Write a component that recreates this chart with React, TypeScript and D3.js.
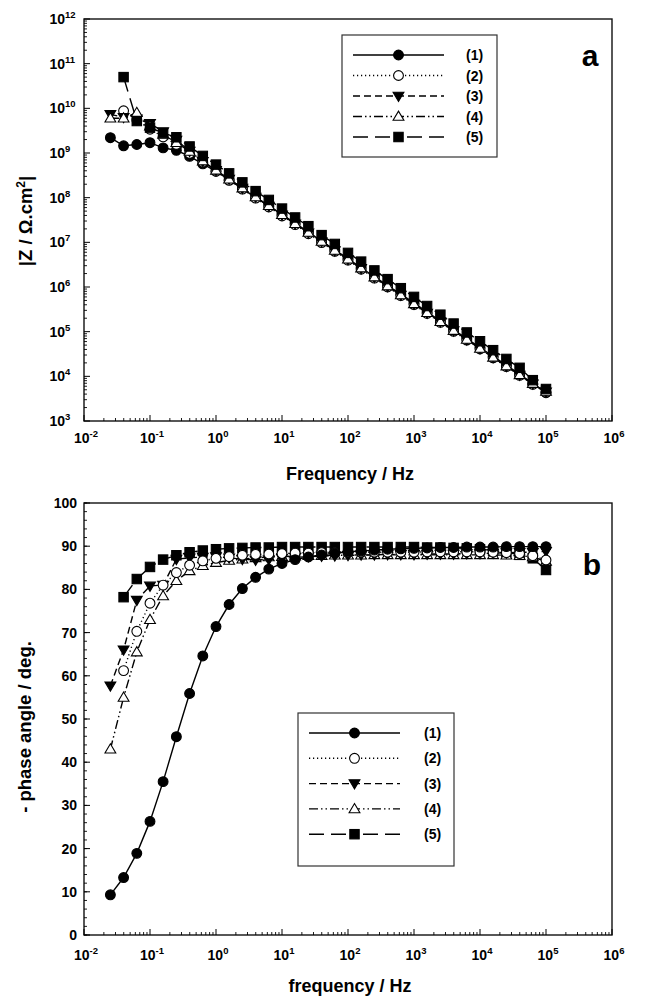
import React from "react";
import * as d3 from "d3";

const FREQ = [0.0251, 0.0398, 0.0631, 0.1, 0.158, 0.251, 0.398, 0.631, 1, 1.58, 2.51, 3.98, 6.31, 10, 15.8, 25.1, 39.8, 63.1, 100, 158, 251, 398, 631, 1000, 1580, 2510, 3980, 6310, 10000, 15800, 25100, 39800, 63100, 100000];

const Z1 = [2.2e9, 1.45e9, 1.55e9, 1.7e9, 1.3e9, 1.15e9, 8.4e8, 5.7e8, 3.9e8, 2.5e8, 1.6e8, 1.0e8, 6.6e7, 4.2e7, 2.7e7, 1.7e7, 1.07e7, 6.8e6, 4.3e6, 2.7e6, 1.72e6, 1.08e6, 6.9e5, 4.4e5, 2.75e5, 1.75e5, 1.1e5, 7.0e4, 4.4e4, 2.8e4, 1.78e4, 1.12e4, 6.8e3, 4.3e3];
const Z2 = [null, 8.8e9, 5.5e9, 3.4e9, 2.3e9, 1.55e9, 9.8e8, 6.2e8, 3.9e8, 2.45e8, 1.55e8, 9.8e7, 6.2e7, 3.9e7, 2.5e7, 1.56e7, 9.9e6, 6.3e6, 4.0e6, 2.5e6, 1.58e6, 1.0e6, 6.4e5, 4.05e5, 2.55e5, 1.62e5, 1.02e5, 6.5e4, 4.1e4, 2.6e4, 1.65e4, 1.05e4, 6.6e3, 4.4e3];
const Z3 = [7.3e9, 6.3e9, 5.8e9, 4.6e9, 3.0e9, 1.95e9, 1.1e9, 6.5e8, 4.1e8, 2.6e8, 1.63e8, 1.03e8, 6.5e7, 4.1e7, 2.6e7, 1.64e7, 1.04e7, 6.5e6, 4.1e6, 2.6e6, 1.65e6, 1.04e6, 6.6e5, 4.15e5, 2.62e5, 1.66e5, 1.05e5, 6.6e4, 4.2e4, 2.65e4, 1.68e4, 1.07e4, 6.8e3, 4.5e3];
const Z4 = [6.0e9, 6.0e9, 8.0e9, 4.0e9, 2.6e9, 1.7e9, 1.08e9, 6.6e8, 4.1e8, 2.6e8, 1.64e8, 1.04e8, 6.6e7, 4.15e7, 2.62e7, 1.66e7, 1.05e7, 6.6e6, 4.2e6, 2.65e6, 1.67e6, 1.05e6, 6.65e5, 4.2e5, 2.65e5, 1.67e5, 1.06e5, 6.7e4, 4.2e4, 2.66e4, 1.7e4, 1.08e4, 6.9e3, 4.6e3];
const Z5 = [null, 5.0e10, 5.2e9, 3.7e9, 2.8e9, 2.25e9, 1.4e9, 8.6e8, 5.5e8, 3.5e8, 2.2e8, 1.4e8, 8.9e7, 5.7e7, 3.6e7, 2.3e7, 1.45e7, 9.2e6, 5.8e6, 3.7e6, 2.35e6, 1.5e6, 9.4e5, 6.0e5, 3.75e5, 2.4e5, 1.52e5, 9.6e4, 6.1e4, 3.85e4, 2.45e4, 1.55e4, 8.2e3, 5.2e3];

const P1 = [9.3, 13.3, 18.9, 26.3, 35.5, 45.9, 55.9, 64.6, 71.4, 76.5, 80.2, 82.8, 84.7, 86.0, 86.9, 87.5, 88.0, 88.4, 88.7, 88.9, 89.1, 89.3, 89.4, 89.5, 89.6, 89.7, 89.7, 89.8, 89.8, 89.8, 89.9, 89.9, 89.9, 89.9];
const P2 = [null, 61.2, 70.3, 76.8, 81.0, 83.9, 85.6, 86.6, 87.2, 87.6, 87.9, 88.1, 88.2, 88.3, 88.4, 88.4, 88.5, 88.5, 88.5, 88.6, 88.6, 88.6, 88.6, 88.6, 88.7, 88.7, 88.7, 88.7, 88.7, 88.6, 88.5, 88.3, 87.8, 86.8];
const P3 = [57.7, 66.0, 77.5, 80.8, 81.0, 87.0, 87.3, 87.5, 87.6, 87.3, 87.0, 86.8, 86.9, 87.2, 87.4, 87.6, 87.7, 87.8, 87.9, 88.0, 88.0, 88.1, 88.1, 88.1, 88.2, 88.2, 88.2, 88.3, 88.3, 88.4, 88.5, 88.6, 88.6, 88.8];
const P4 = [43.0, 55.0, 65.5, 73.0, 78.5, 82.0, 84.3, 85.5, 86.2, 86.7, 87.0, 87.3, 87.5, 87.6, 87.7, 87.8, 87.8, 87.9, 87.9, 87.9, 88.0, 88.0, 88.0, 88.0, 88.0, 88.0, 88.0, 88.0, 88.0, 88.0, 87.9, 87.8, 87.5, 86.5];
const P5 = [null, 78.2, 82.4, 85.2, 86.9, 87.9, 88.6, 89.0, 89.3, 89.5, 89.6, 89.7, 89.7, 89.8, 89.8, 89.8, 89.8, 89.8, 89.8, 89.8, 89.8, 89.8, 89.8, 89.8, 89.7, 89.7, 89.6, 89.5, 89.3, 89.0, 88.6, 88.0, 87.2, 84.5];

const SERIES_LABELS = ["(1)", "(2)", "(3)", "(4)", "(5)"];
const X_EXPONENTS = [-2, -1, 0, 1, 2, 3, 4, 5, 6];
const Z_EXPONENTS = [3, 4, 5, 6, 7, 8, 9, 10, 11, 12];
const PHASE_TICKS = [0, 10, 20, 30, 40, 50, 60, 70, 80, 90, 100];

const STYLES = [
  { dash: "", marker: "circle", fill: "#000" },
  { dash: "1.2,2.8", marker: "circle", fill: "#fff" },
  { dash: "7,4", marker: "tdown", fill: "#000" },
  { dash: "9,3,1.5,3,1.5,3", marker: "tup", fill: "#fff" },
  { dash: "15,7,15,7,3,7", marker: "square", fill: "#000" },
];

const FONT = "'Liberation Sans', Arial, sans-serif";
const W = 653, H = 996;
const LEFT = 84, RIGHT = 612;

function Marker({ x, y, kind, fill }: { x: number; y: number; kind: string; fill: string }) {
  const s = 1.1;
  if (kind === "circle") return <circle cx={x} cy={y} r={4.9} fill={fill} stroke="#000" strokeWidth={s} />;
  if (kind === "square") return <rect x={x - 4.7} y={y - 4.7} width={9.4} height={9.4} fill={fill} stroke="#000" strokeWidth={s} />;
  if (kind === "tdown") return <path d={`M${x - 5.4},${y - 3.8}L${x + 5.4},${y - 3.8}L${x},${y + 5.4}Z`} fill={fill} stroke="#000" strokeWidth={s} />;
  return <path d={`M${x - 5.4},${y + 3.8}L${x + 5.4},${y + 3.8}L${x},${y - 5.4}Z`} fill={fill} stroke="#000" strokeWidth={s} />;
}

function Legend({ x, y, w, h, step, lx0, lx1, tx }: any) {
  return (
    <g>
      <rect x={x} y={y} width={w} height={h} fill="#fff" stroke="#333" strokeWidth={1.2} />
      {SERIES_LABELS.map((lab, i) => {
        const st = STYLES[i];
        const yy = y + 20 + i * step;
        return (
          <g key={i}>
            <line x1={x + lx0} x2={x + lx1} y1={yy} y2={yy} stroke="#000" strokeWidth={1.4} strokeDasharray={st.dash} />
            <Marker x={x + (lx0 + lx1) / 2} y={yy} kind={st.marker} fill={st.fill} />
            <text x={x + tx} y={yy + 5} fontSize={14} fontWeight="bold" fontFamily={FONT}>{lab}</text>
          </g>
        );
      })}
    </g>
  );
}

function XAxis({ x, y0, labelY }: any) {
  const minor: number[] = [];
  X_EXPONENTS.slice(0, -1).forEach((e) => {
    for (let m = 2; m <= 9; m++) minor.push(m * Math.pow(10, e));
  });
  return (
    <g>
      {X_EXPONENTS.map((e) => (
        <g key={e}>
          <line x1={x(Math.pow(10, e))} x2={x(Math.pow(10, e))} y1={y0} y2={y0 - 6} stroke="#000" strokeWidth={1} />
          <text x={x(Math.pow(10, e)) + 2} y={labelY} textAnchor="middle" fontSize={14} fontWeight="bold" fontFamily={FONT}>
            10<tspan dy={-6} fontSize={9.5}>{e}</tspan>
          </text>
        </g>
      ))}
      {minor.map((v, i) => (
        <line key={i} x1={x(v)} x2={x(v)} y1={y0} y2={y0 - 3} stroke="#000" strokeWidth={0.9} />
      ))}
    </g>
  );
}

function TopPanel() {
  const top = 19, bottom = 421;
  const x = d3.scaleLog().domain([0.01, 1e6]).range([LEFT, RIGHT]);
  const y = d3.scaleLog().domain([1e3, 1e12]).range([bottom, top]);
  const data = [Z1, Z2, Z3, Z4, Z5];
  const minorY: number[] = [];
  Z_EXPONENTS.slice(0, -1).forEach((e) => {
    for (let m = 2; m <= 9; m++) minorY.push(m * Math.pow(10, e));
  });
  return (
    <g>
      {data.map((arr, si) => {
        const pts = FREQ.map((f, i) => [f, arr[i]] as [number, number | null]).filter((p) => p[1] != null) as [number, number][];
        const line = d3.line<[number, number]>().x((d) => x(d[0])).y((d) => y(d[1]));
        return (
          <g key={si}>
            <path d={line(pts) || ""} fill="none" stroke="#000" strokeWidth={1.4} strokeDasharray={STYLES[si].dash} />
            {pts.map((p, i) => <Marker key={i} x={x(p[0])} y={y(p[1])} kind={STYLES[si].marker} fill={STYLES[si].fill} />)}
          </g>
        );
      })}
      <rect x={LEFT} y={top} width={RIGHT - LEFT} height={bottom - top} fill="none" stroke="#111" strokeWidth={1.4} />
      {Z_EXPONENTS.map((e) => (
        <g key={e}>
          <line x1={LEFT} x2={LEFT + 6} y1={y(Math.pow(10, e))} y2={y(Math.pow(10, e))} stroke="#000" strokeWidth={1} />
          <text x={65} y={y(Math.pow(10, e)) + 5} textAnchor="end" fontSize={14} fontWeight="bold" fontFamily={FONT}>10</text>
          <text x={65} y={y(Math.pow(10, e)) - 1} fontSize={9.5} fontWeight="bold" fontFamily={FONT}>{e}</text>
        </g>
      ))}
      {minorY.map((v, i) => (
        <line key={i} x1={LEFT} x2={LEFT + 3} y1={y(v)} y2={y(v)} stroke="#000" strokeWidth={0.9} />
      ))}
      <XAxis x={x} y0={bottom} labelY={443} />
      <text x={350} y={480} textAnchor="middle" fontSize={18} fontWeight="bold" fontFamily={FONT}>Frequency / Hz</text>
      <text transform={`translate(32,221) rotate(-90)`} textAnchor="middle" fontSize={18.5} fontWeight="bold" fontFamily={FONT}>
        |Z / Ω.cm<tspan dy={-7} fontSize={12}>2</tspan><tspan dy={7}>|</tspan>
      </text>
      <Legend x={342} y={35} w={155} h={122} step={20.5} lx0={11} lx1={102} tx={124} />
      <text x={590} y={66} textAnchor="middle" fontSize={30} fontWeight="bold" fontFamily={FONT}>a</text>
    </g>
  );
}

function BottomPanel() {
  const top = 503, bottom = 935;
  const x = d3.scaleLog().domain([0.01, 1e6]).range([LEFT, RIGHT]);
  const y = d3.scaleLinear().domain([0, 100]).range([bottom, top]);
  const data = [P1, P2, P3, P4, P5];
  const minorY = d3.range(0, 101, 2);
  return (
    <g>
      {data.map((arr, si) => {
        const pts = FREQ.map((f, i) => [f, arr[i]] as [number, number | null]).filter((p) => p[1] != null) as [number, number][];
        const line = d3.line<[number, number]>().x((d) => x(d[0])).y((d) => y(d[1]));
        return (
          <g key={si}>
            <path d={line(pts) || ""} fill="none" stroke="#000" strokeWidth={1.4} strokeDasharray={STYLES[si].dash} />
            {pts.map((p, i) => <Marker key={i} x={x(p[0])} y={y(p[1])} kind={STYLES[si].marker} fill={STYLES[si].fill} />)}
          </g>
        );
      }).reverse()}
      <rect x={LEFT} y={top} width={RIGHT - LEFT} height={bottom - top} fill="none" stroke="#111" strokeWidth={1.4} />
      {PHASE_TICKS.map((v) => (
        <g key={v}>
          <line x1={LEFT} x2={LEFT + 6} y1={y(v)} y2={y(v)} stroke="#000" strokeWidth={1} />
          <text x={77} y={y(v) + 5} textAnchor="end" fontSize={14} fontWeight="bold" fontFamily={FONT}>{v}</text>
        </g>
      ))}
      {minorY.map((v, i) => (
        <line key={i} x1={LEFT} x2={LEFT + 3} y1={y(v)} y2={y(v)} stroke="#000" strokeWidth={0.9} />
      ))}
      <XAxis x={x} y0={bottom} labelY={960} />
      <text x={350} y={992} textAnchor="middle" fontSize={18} fontWeight="bold" fontFamily={FONT}>frequency / Hz</text>
      <text transform={`translate(31,727) rotate(-90)`} textAnchor="middle" fontSize={18.5} fontWeight="bold" fontFamily={FONT}>- phase angle / deg.</text>
      <Legend x={298} y={713} w={156} h={153} step={25.3} lx0={11} lx1={102} tx={126} />
      <text x={592} y={575} textAnchor="middle" fontSize={30} fontWeight="bold" fontFamily={FONT}>b</text>
    </g>
  );
}

export default function App() {
  return (
    <svg width={W} height={H} style={{ position: "absolute", left: 0, top: 0, background: "#fff" }}>
      <rect width={W} height={H} fill="#fff" />
      <TopPanel />
      <BottomPanel />
    </svg>
  );
}
